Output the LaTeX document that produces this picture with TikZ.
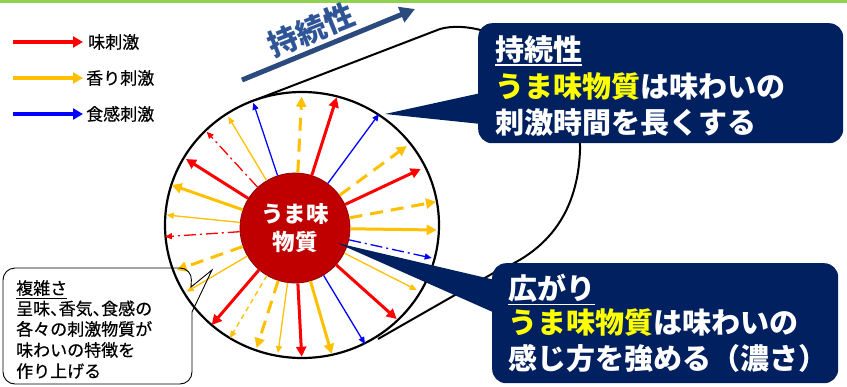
\documentclass[tikz,border=0pt]{standalone}
\usepackage{fontspec}
\setmainfont{Noto Sans CJK JP}
\newfontfamily\jpmed{Noto Sans CJK JP}[FakeBold=0.5]
\usetikzlibrary{arrows.meta}
\definecolor{rRed}{HTML}{FF0000}
\definecolor{rYel}{HTML}{FFC000}
\definecolor{rBlu}{HTML}{0000FF}
\definecolor{navy}{HTML}{002060}
\definecolor{arrnavy}{HTML}{2B4A7E}
\definecolor{persist}{HTML}{2F5597}
\definecolor{topgreen}{HTML}{92D050}
\definecolor{corered}{HTML}{C00000}
\definecolor{hiyel}{HTML}{FFFF00}
\begin{document}
\begin{tikzpicture}[x=1pt,y=-1pt,
  thickray/.style={line width=3pt,-{Triangle[length=10pt,width=10pt]}},
  thinray/.style={line width=1.3pt,-{Triangle[length=7pt,width=6pt]}},
  dashthick/.style={thickray,dash pattern=on 13pt off 8pt},
  dashthin/.style={thinray,dash pattern=on 5pt off 4pt},
  dashdot/.style={thinray,dash pattern=on 12pt off 4pt on 2pt off 4pt},
  legarrow/.style={line width=3.3pt,-{Triangle[length=10pt,width=11pt]}},
  legtxt/.style={anchor=west,inner sep=0pt,font=\jpmed\fontsize{17}{17}\selectfont},
  bigtxt/.style={anchor=west,inner sep=0pt,font=\bfseries\fontsize{29}{29}\selectfont},
  smalltxt/.style={anchor=west,inner sep=0pt,font=\jpmed\fontsize{17}{17}\selectfont},
  cyl/.style={line width=2pt,black}
]
\useasboundingbox (0,0) rectangle (847,386);
\fill[topgreen] (0,0) rectangle (847,2.5);

% cylinder
\coordinate (cylTL) at (250,102);
\coordinate (cylTR) at (440,29);
\coordinate (cylBL) at (378,339);
\coordinate (cylBR) at (497,271);
\draw[cyl] (cylTL) -- (cylTR);
\draw[cyl] (cylTR) .. controls (490,15) and (582,70) .. (580,150)
  .. controls (578,210) and (550,250) .. (cylBR);
\draw[cyl] (cylBL) -- (cylBR);
\draw[line width=2.2pt,fill=white] (302,225) ellipse [x radius=137, y radius=133];

% core
\node[circle,fill=corered,draw=corered!75!black,line width=0.8pt,minimum size=110pt,inner sep=0pt,
  text=white,align=center,font=\bfseries\fontsize{22.5}{28.5}\selectfont] (core) at (295,228) {うま味\\物質};

% ray tips
\coordinate (t1) at (301.7,96.7);
\coordinate (t2) at (336.7,97.3);
\coordinate (t3) at (379,114);
\coordinate (t4) at (406.7,146);
\coordinate (t5) at (420.7,169);
\coordinate (t6) at (436,201.7);
\coordinate (t7) at (436.7,230);
\coordinate (t8) at (431.7,258);
\coordinate (t9) at (416.7,290);
\coordinate (t10) at (396.7,319);
\coordinate (t11) at (365,344);
\coordinate (t12) at (331.7,354);
\coordinate (t13) at (301.7,356.7);
\coordinate (t14) at (278,353);
\coordinate (t15) at (256.7,348);
\coordinate (t16) at (230,338);
\coordinate (t17) at (211.7,325);
\coordinate (t18) at (186.7,291.7);
\coordinate (t19) at (176.7,270);
\coordinate (t20) at (165,236.7);
\coordinate (t21) at (166.7,215);
\coordinate (t22) at (171.7,185);
\coordinate (t23) at (186,159);
\coordinate (t24) at (206.7,131.7);
\coordinate (t25) at (228.3,116.7);
\coordinate (t26) at (253.3,102.7);

\draw[rYel,dashthick] (core) -- (t1);
\draw[rRed,thickray] (core) -- (t2);
\draw[rBlu,thinray] (core) -- (t3);
\draw[rYel,dashthick] (core) -- (t4);
\draw[rRed,thickray] (core) -- (t5);
\draw[rYel,dashthick] (core) -- (t6);
\draw[rYel,thickray] (core) -- (t7);
\draw[rBlu,dashdot] (core) -- (t8);
\draw[rYel,thinray] (core) -- (t9);
\draw[rRed,thickray] (core) -- (t10);
\draw[rBlu,thinray] (core) -- (t11);
\draw[rYel,thickray] (core) -- (t12);
\draw[rRed,thickray] (core) -- (t13);
\draw[rYel,thinray] (core) -- (t14);
\draw[rYel,dashthick] (core) -- (t15);
\draw[rYel,dashthin] (core) -- (t16);
\draw[rRed,thickray] (core) -- (t17);
\draw[rYel,thinray] (core) -- (t18);
\draw[rYel,dashthick] (core) -- (t19);
\draw[rRed,dashdot] (core) -- (t20);
\draw[rYel,thinray] (core) -- (t21);
\draw[rYel,thickray] (core) -- (t22);
\draw[rRed,thickray] (core) -- (t23);
\draw[rRed,dashdot] (core) -- (t24);
\draw[rYel,thinray] (core) -- (t25);
\draw[rBlu,thinray] (core) -- (t26);

% legend
\coordinate (lga) at (13,42);
\coordinate (lgb) at (13,78);
\coordinate (lgc) at (13,114);
\node[legtxt] (lg1) at (88,42) {味刺激};
\node[legtxt] (lg2) at (86,78) {香り刺激};
\node[legtxt] (lg3) at (86,114) {食感刺激};
\draw[legarrow,rRed] (lga) -- ([xshift=-5pt]lg1.west);
\draw[legarrow,rYel] (lgb) -- ([xshift=-3pt]lg2.west);
\draw[legarrow,rBlu] (lgc) -- ([xshift=-3pt]lg3.west);

% persistence arrow
\coordinate (pa1) at (242,80);
\coordinate (pa2) at (415,9);
\draw[arrnavy,line width=5pt,-{Triangle[length=15pt,width=16pt]}] (pa1) -- (pa2);
\node[rotate=22,text=persist,inner sep=0pt,font=\bfseries\fontsize{30}{30}\selectfont] (ptxt) at (311,30) {持続性};

% box 3 (complexity)
\coordinate (p3tip) at (212,270);
\draw[line width=0.9pt] (p3tip) -- (191,287) [rounded corners=12pt] -- (192,268) -- (3,268) -- (3,384) -- (192,384) [sharp corners] -- (192,312) -- cycle;
\node[smalltxt] (c1) at (16,288) {複雑さ};
\draw[line width=1.1pt] ([yshift=-2.5pt]c1.south west) -- ([yshift=-2.5pt]c1.south east);
\node[smalltxt] (c2) at (16,308.5) {呈味\makebox[0.5em][l]{、}香気\makebox[0.5em][l]{、}食感の};
\node[smalltxt] (c3) at (16,329) {各々の刺激物質が};
\node[smalltxt] (c4) at (16,350) {味わいの特徴を};
\node[smalltxt] (c5) at (16,371) {作り上げる};

% box 1
\node[fill=navy,rounded corners=14pt,minimum width=365pt,minimum height=120pt,anchor=north west,inner sep=0pt] (b1) at (478,23) {};
\coordinate (p1tip) at (385,114);
\fill[navy] (p1tip) -- (481,93) -- (481,124) -- cycle;
\node[bigtxt,text=white] (b1l1) at (495,49) {持続性};
\draw[white,line width=1.5pt] ([yshift=-2pt]b1l1.south west) -- ([yshift=-2pt]b1l1.south east);
\node[bigtxt] (b1l2) at (495,87) {\textcolor{hiyel}{うま味物質}\textcolor{white}{は味わいの}};
\node[bigtxt,text=white] (b1l3) at (495,123) {刺激時間を長くする};

% box 2
\node[fill=navy,rounded corners=14pt,minimum width=346pt,minimum height=120pt,anchor=north west,inner sep=0pt] (b2) at (492,263) {};
\coordinate (p2tip) at (337,243);
\fill[navy] (p2tip) -- (495,280) -- (495,313) -- cycle;
\node[bigtxt,text=white] (b2l1) at (508,288) {広がり};
\draw[white,line width=1.5pt] ([yshift=-2pt]b2l1.south west) -- ([yshift=-2pt]b2l1.south east);
\node[bigtxt] (b2l2) at (508,323) {\textcolor{hiyel}{うま味物質}\textcolor{white}{は味わいの}};
\node[bigtxt,text=white] (b2l3) at (508,358) {感じ方を強める（濃さ）};
\end{tikzpicture}
\end{document}
